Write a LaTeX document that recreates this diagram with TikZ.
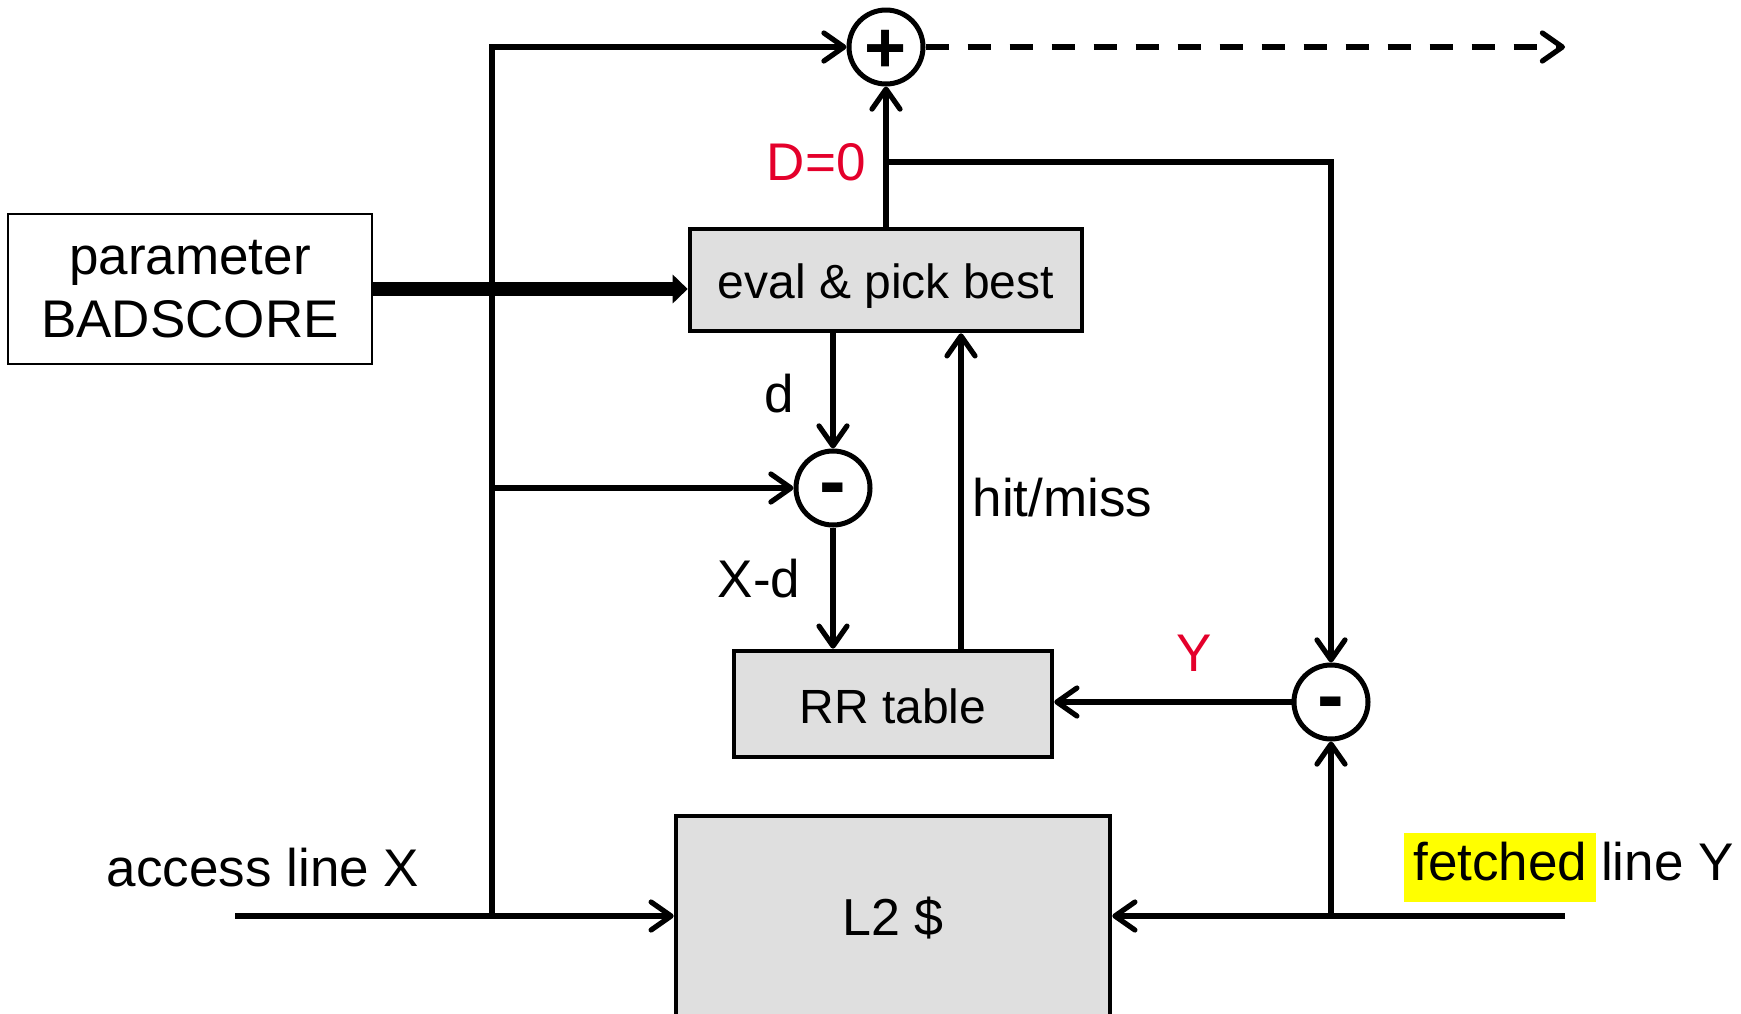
\documentclass[tikz,border=0pt]{standalone}
\usepackage{fontspec}
\setmainfont{Liberation Sans}
\usetikzlibrary{arrows.meta, positioning}
\definecolor{BoxGray}{HTML}{DFDFDF}
\definecolor{SignalRed}{HTML}{E4002B}
\definecolor{Marker}{HTML}{FFFF00}

\begin{document}
\begin{tikzpicture}[
    x=0.5pt,
    y=-0.5pt,
    every node/.style={text=black},
    unitbox/.style={draw=black, fill=BoxGray, line width=2.3pt, align=center, font=\fontsize{24}{28}\selectfont, text height=18pt, text depth=0pt},
    parambox/.style={draw=black, fill=white, line width=0.8pt, minimum width=182pt, minimum height=75pt, align=center, font=\fontsize{26.5}{31.5}\selectfont},
    sumnode/.style={circle, draw=black, fill=white, line width=2.5pt, minimum size=37pt, inner sep=0pt},
    plussign/.style={font=\fontsize{36}{36}\selectfont\bfseries, text height=25.5pt, text depth=0pt},
    minussign/.style={font=\fontsize{40}{40}\selectfont\bfseries, text height=20pt, text depth=0pt},
    arrowline/.style={draw=black, line width=2.6pt, -{Straight Barb[round, length=10pt, width=14pt]}},
    fatarrow/.style={draw=black, line width=7pt, -{Triangle[length=7.5pt, width=14pt]}},
    sigtext/.style={font=\fontsize{26.5}{31.5}\selectfont, inner sep=0pt},
    redtext/.style={sigtext, text=SignalRed}
]

\useasboundingbox (0,0) rectangle (1741,1013);
\clip (0,0) rectangle (1741,1013);

% blocks
\node[sumnode, plussign] (plus) at (886,47) {+};
\node[unitbox, minimum width=196pt, minimum height=51pt] (eval) at (886,280) {eval \& pick best};
\node[parambox] (param) at (190,289) {parameter\\BADSCORE};
\node[sumnode, minussign] (subd) at (833,488) {-};
\node[unitbox, minimum width=159pt, minimum height=53pt, text height=19pt] (rr) at (893,704) {RR table};
\node[sumnode, minussign] (suby) at (1331,702) {-};
\node[unitbox, minimum width=217pt, minimum height=100pt, font=\fontsize{26}{30}\selectfont, text height=19pt] (ltwo) at (893,916) {L2 \$};

% wire ends and branch points
\coordinate (xin) at (235,916);
\coordinate (yin) at (1565,916);
\coordinate (xsplit) at (492,916);
\coordinate (ysplit) at (1331,916);
\coordinate (dzero) at (886,162);
\coordinate (out) at (1565,47);

% inputs
\draw[arrowline] (xin) -- (ltwo.west);
\draw[arrowline] (yin) -- (ltwo.east);
\draw[arrowline] (xsplit) |- (plus.west);
\draw[arrowline] (xsplit |- subd) -- (subd.west);
\draw[arrowline] (ysplit) -- (suby.south);
\draw[fatarrow] (param.east) -- (param.east -| eval.west);

% result path
\draw[arrowline] (eval.north) -- (plus.south);
\draw[arrowline] (dzero) -| (suby.north);
\draw[arrowline, dash pattern=on 11.5pt off 9.5pt] (plus.east) -- (out);

% inner loop
\draw[arrowline] (subd.north |- eval.south) -- node[sigtext, left=18pt, pos=0.52] {d} (subd.north);
\draw[arrowline] (subd.south) -- node[sigtext, left=15pt, pos=0.42] {X-d} (subd.south |- rr.north);
\draw[arrowline] ([xshift=34pt]rr.north) -- node[sigtext, right=4.5pt, pos=0.48] {hit/miss} ([xshift=34pt]rr.north |- eval.south);
\draw[arrowline] (suby.west) -- node[redtext, above=14pt, pos=0.41] {Y} (suby.west -| rr.east);

% labels
\node[redtext, left=10pt of dzero] (dlabel) {D=0};
\node[sigtext] (xlabel) at (263,868) {access line X};
\node[sigtext, fill=Marker, text height=23.5pt, text depth=11pt, inner xsep=4.5pt, anchor=base west] (fetched) at (1404,880) {fetched};
\node[sigtext, anchor=base west] (liney) at ([xshift=2pt]fetched.base east) {line Y};

\end{tikzpicture}
\end{document}
